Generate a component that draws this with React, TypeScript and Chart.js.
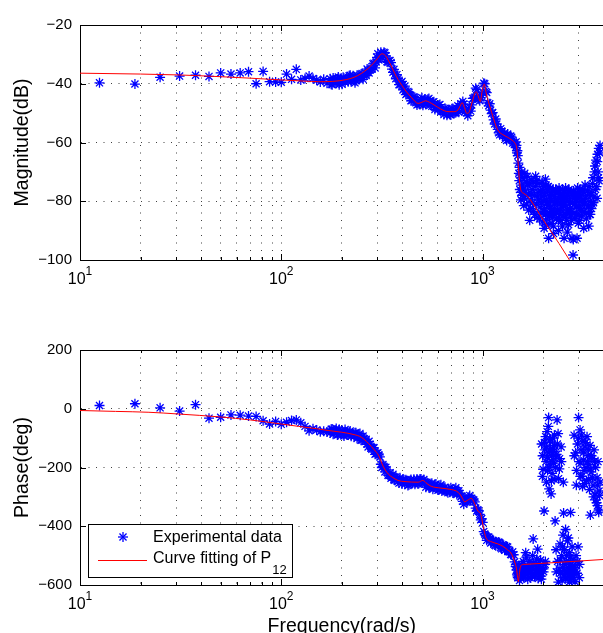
import React, { useEffect, useRef } from "react";
import { Chart, registerables } from "chart.js";

Chart.register(...registerables);

const FONT = '"Liberation Sans", Arial, Helvetica, sans-serif';
const GRID_COLOR = "rgba(0,0,0,0.75)";
const GRID_DASH = [1, 6.5];

// ---- axes / ticks ----
const freqRange = [10, 4000];
const decadeExponents = [1, 2, 3];
const gridFreqs = [10, 20, 30, 40, 50, 60, 70, 80, 90, 100, 200, 300, 400, 500, 600, 700, 800, 900, 1000, 2000, 3000, 4000];
const magRange = [-100, -20];
const magTicks = [-100, -80, -60, -40, -20];
const phaseRange = [-600, 200];
const phaseTicks = [-600, -400, -200, 0, 200];

const yTitles = ["Magnitude(dB)", "Phase(deg)"];
const xTitle = "Frequency(rad/s)";
const legendLabels = ["Experimental data", "Curve fitting of P"];
const legendSubscript = "12";

// ---- experimental data (rad/s, dB, deg) ----
const expFreq = [
  12.5, 18.75, 25, 31.25, 37.5, 43.75, 50, 56.25, 62.5, 68.75, 75, 81.25, 87.5, 93.75, 100, 106.25, 112.5, 118.75, 125, 131.25, 137.5, 143.75, 150, 156.25, 162.5, 168.75,
  175, 179, 183, 187.5, 192, 196, 200.5, 205, 210, 215,
  220, 225, 230, 235, 241, 246, 252, 258, 264, 270,
  276, 282, 289, 296, 302, 309, 316, 324, 331, 339,
  347, 355, 363, 371, 380, 389, 398, 407, 416, 426,
  436, 446, 456, 467, 478, 489, 500, 511, 523, 535,
  548, 560, 573, 587, 600, 614, 628, 643, 658, 673,
  688, 704, 720, 737, 754, 771, 789, 807, 826, 845,
  864, 884, 905, 925, 947, 969, 991, 1014, 1037, 1061,
  1086, 1111, 1136, 1163, 1190, 1217, 1245, 1274, 1303, 1333,
  1364, 1396, 1428, 1461, 1475, 1490,
  1497, 1506, 1515, 1523, 1532, 1540, 1549, 1558, 1576, 1585,
  1594, 1612, 1621, 1630, 1649, 1658, 1668, 1687, 1696, 1706,
  1725, 1735, 1745, 1765, 1775, 1785, 1806, 1816, 1826, 1847,
  1858, 1868, 1890, 1900, 1911, 1933, 1944, 1955, 1966, 1978,
  1989, 2000, 2011, 2023, 2035, 2047, 2058, 2070, 2082, 2094,
  2106, 2118, 2130, 2142, 2154, 2167, 2179, 2191, 2204, 2217,
  2229, 2242, 2255, 2268, 2281, 2294, 2307, 2320, 2334, 2347,
  2360, 2374, 2387, 2401, 2415, 2429, 2443, 2457, 2471, 2485,
  2499, 2513, 2528, 2542, 2556, 2571, 2586, 2601, 2616, 2631,
  2646, 2661, 2676, 2691, 2707, 2722, 2738, 2754, 2770, 2785,
  2801, 2817, 2833, 2850, 2866, 2883, 2899, 2916, 2933, 2949,
  2966, 2983, 3000, 3017, 3034, 3052, 3087, 3122, 3158, 3183,
  3213, 3231, 3269, 3306, 3344, 3371, 3383, 3421, 3433, 3461,
  3501, 3541, 3582, 3623, 3644, 3665, 3707, 3728, 3749, 3779,
  3793, 3836,
  177, 181, 185, 190, 194, 198, 203, 207.5, 212.5, 217.5,
  222.5, 227.5, 232.5, 238, 243.5, 249, 255, 261, 267, 273,
  279, 285.5, 292.5, 299, 305.5, 312.5, 320, 327.5, 335, 343,
  351, 359, 367, 375.5, 384.5, 393.5, 402.5, 411.5, 421, 431,
  441, 451, 461.5, 472.5, 483.5, 494.5, 505.5, 517, 529, 541.5,
  554, 566.5, 580, 593.5, 607, 621, 635.5, 650.5, 665.5, 680.5,
  696, 712, 728.5, 745.5, 762.5, 780, 798, 816.5, 835.5, 854.5,
  874, 894.5, 915, 936, 958, 980, 1002.5, 1025.5, 1049, 1073.5,
  1098.5, 1123.5, 1149.5, 1176.5, 1203.5, 1231, 1259.5, 1288.5, 1318, 1348.5,
  1380, 1412, 1444.5, 1468, 1482.5,
  1527, 1553, 1567, 1603, 1639, 1678, 1716, 1755, 1795, 1836, 1879, 1922,
  1961, 1984, 2006, 2029, 2053, 2076,
  2100, 2124, 2148, 2173, 2197, 2223, 2248, 2274,
  2301, 2327, 2354, 2381, 2408, 2436, 2464, 2492, 2520, 2549,
  2578, 2608, 2638, 2669, 2699, 2730, 2762, 2793, 2825,
  2858, 2891, 2924, 2957, 2992, 3026, 3061,
  3078, 3105, 3140, 3167, 3195, 3250, 3288, 3325, 3354, 3402, 3450, 3481, 3521, 3561, 3603, 3686, 3718, 3770, 3815,
];

const expMag = [
  -39.7, -40.1, -37.8, -37.4, -37.1, -37.5, -36.3, -36.7, -36.3, -35.9, -40.0, -35.8, -39.3, -39.4, -39.5, -36.7, -38.5, -35.1, -38.7, -38.2, -37.4, -38.2, -38.7, -39.4, -38.5, -39.8,
  -38.3, -40.3, -38.9, -39.7, -37.7, -39.2, -40.2, -38.1, -38.5, -39.3,
  -37.1, -38.4, -37.9, -39.0, -37.8, -38.2, -36.5, -37.0, -37.2, -35.6,
  -35.3, -34.9, -33.0, -32.6, -29.8, -30.7, -31.1, -29.3, -30.5, -32.7,
  -32.1, -35.0, -35.1, -38.3, -38.2, -40.3, -39.2, -41.8, -43.7, -42.6,
  -44.0, -45.7, -44.4, -46.5, -46.3, -47.1, -44.8, -46.1, -47.1, -45.3,
  -46.3, -47.7, -46.1, -48.1, -48.7, -47.1, -49.0, -50.5, -48.7, -49.4,
  -50.5, -48.5, -49.9, -49.8, -47.5, -48.0, -47.8, -46.9, -49.3, -50.9,
  -48.2, -47.2, -44.9, -41.5, -44.0, -45.8, -43.9, -39.8, -42.6, -46.5,
  -46.8, -50.2, -52.3, -52.0, -55.5, -57.4, -56.1, -57.3, -58.7, -57.1,
  -59.0, -58.2, -59.9, -61.7, -61.0, -62.8,
  -64.5, -67.0, -70.5, -73.0, -76.0, -71.0, -77.0, -74.5, -78.0, -72.0,
  -75.5, -79.0, -70.5, -76.5, -73.5, -81.0, -71.5, -77.5, -83.0, -74.0,
  -79.5, -82.5, -72.5, -76.0, -80.5, -73.5, -78.0, -84.5, -75.0, -81.0,
  -73.0, -85.5, -77.0, -79.5, -74.0, -82.0, -76.5, -84.0, -78.5, -73.5,
  -87.0, -80.0, -75.0, -89.2, -82.5, -77.0, -84.5, -74.5, -79.5, -86.0,
  -76.0, -81.5, -92.6, -78.0, -84.0, -75.5, -82.0, -87.5, -77.5, -80.0,
  -85.5, -76.0, -91.0, -82.5, -78.5, -84.5, -76.0, -80.5, -86.0, -77.0,
  -83.0, -79.0, -90.0, -75.5, -84.5, -81.0, -77.5, -86.5, -79.5, -82.0,
  -76.0, -85.0, -80.5, -92.6, -78.5, -84.0, -75.5, -81.5, -86.5, -77.5,
  -83.0, -80.0, -88.0, -76.0, -82.5, -79.0, -85.0, -77.0, -83.5, -92.6,
  -80.5, -98.3, -76.5, -84.0, -79.0, -86.0, -77.0, -82.0, -80.0, -92.6,
  -75.5, -84.5, -78.0, -81.5, -86.5, -77.0, -83.0, -79.5, -76.0, -89.2,
  -81.0, -74.5, -84.0, -78.0, -82.0, -88.5, -75.0, -80.0, -84.5, -77.0,
  -81.0, -72.0, -78.5, -68.0, -76.0, -66.0, -79.0, -64.0, -70.0, -62.0,
  -73.0, -61.0,
  -40.2, -38.0, -39.7, -38.3, -40.3, -38.6, -37.8, -39.5, -38.7, -37.3,
  -39.3, -37.3, -39.7, -37.1, -38.5, -36.8, -38.5, -36.3, -35.0, -36.3,
  -35.1, -33.2, -34.6, -31.0, -31.9, -29.3, -30.4, -29.5, -32.5, -32.1,
  -32.8, -36.1, -36.8, -36.9, -40.3, -39.6, -42.1, -40.8, -43.4, -42.9,
  -45.8, -44.8, -44.7, -47.2, -46.8, -45.4, -47.3, -45.3, -46.9, -45.0,
  -47.1, -46.2, -48.8, -47.5, -47.2, -49.5, -49.2, -48.3, -50.7, -49.0,
  -50.6, -48.4, -49.9, -48.3, -49.7, -46.8, -46.0, -49.3, -49.9, -48.7,
  -49.3, -45.0, -44.6, -42.0, -45.3, -44.7, -42.9, -40.0, -43.0, -47.5,
  -49.0, -49.8, -53.7, -53.7, -56.7, -55.3, -57.6, -56.8, -59.3, -58.0,
  -57.8, -60.2, -60.2, -59.8, -63.5,
  -68.5, -79.5, -70.0, -81.5, -78.0, -74.5, -86.5, -77.5, -83.5, -71.5, -78.5, -86.0,
  -80.5, -76.0, -83.5, -78.0, -72.5, -88.0,
  -80.5, -75.0, -85.0, -79.0, -83.5, -76.5, -88.5, -81.0,
  -77.0, -84.0, -80.0, -86.5, -76.5, -83.0, -78.5, -88.5, -81.5, -77.0,
  -85.5, -79.0, -90.5, -76.5, -84.0, -80.5, -86.5, -78.0, -93.0,
  -81.0, -77.5, -84.5, -79.0, -87.5, -76.0, -82.5,
  -78.5, -85.0, -80.5, -77.0, -83.5, -79.0, -86.0, -76.5, -81.5, -84.5, -78.0, -82.5, -74.0, -80.5, -70.0, -75.0, -66.5, -72.0, -63.5,
];

const expPhase = [
  11, 17, 3, -8, 14, -32, -29, -21, -22, -25, -26, -41, -52, -43, -53, -46, -40, -38, -48, -60, -75, -68, -72, -78, -77, -79,
  -82, -69, -81, -67, -88, -77, -74, -93, -79, -89,
  -76, -87, -94, -82, -96, -84, -107, -102, -104, -130,
  -121, -138, -133, -152, -150, -164, -200, -197, -199, -226,
  -218, -233, -242, -232, -247, -235, -256, -242, -242, -261,
  -245, -254, -240, -251, -256, -239, -246, -241, -267, -254,
  -266, -254, -266, -256, -277, -264, -280, -270, -279, -286,
  -284, -276, -284, -269, -286, -288, -297, -325, -311, -315,
  -295, -305, -311, -338, -344, -360, -374, -418, -432, -437,
  -441, -454, -449, -466, -457, -456, -477, -465, -479, -471,
  -487, -497, -497, -537, -549, -569,
  -575, -560, -548, -565, -540, -552, -575, -530, -548, -565,
  -520, -558, -540, -572, -505, -550, -535, -562, -545, -520,
  -575, -555, -538, -565, -500, -443, -548, -570, -530, -558,
  -512, -545, -578, -528, -560, -540, -515, -570, -120, -540,
  -160, -206, -555, -348, -140, -530, -95, -180, -130, -78,
  -210, -150, -30, -273, -110, -190, -135, -290, -160, -220,
  -100, -175, -145, -240, -125, -382, -200, -480, -155, -38,
  -520, -85, -238, -545, -170, -460, -560, -130, -500, -584,
  -540, -430, -355, -570, -480, -530, -411, -555, -500, -575,
  -450, -540, -520, -565, -490, -555, -353, -530, -580, -470,
  -545, -515, -560, -90, -540, -589, -150, -500, -210, -560,
  -120, -470, -30, -180, -530, -72, -140, -230, -110, -175,
  -255, -130, -200, -95, -160, -240, -190, -125, -362, -215,
  -170, -260, -140, -290, -200, -310, -235, -330, -180, -352,
  -280, -250,
  -70, -87, -74, -89, -71, -83, -88, -71, -89, -79,
  -94, -85, -82, -101, -90, -107, -93, -110, -121, -111,
  -134, -132, -155, -152, -157, -189, -190, -215, -208, -227,
  -237, -223, -243, -236, -253, -245, -241, -257, -245, -259,
  -241, -252, -257, -239, -254, -239, -253, -249, -250, -269,
  -258, -274, -258, -271, -276, -259, -277, -267, -282, -273,
  -269, -287, -275, -292, -279, -300, -315, -303, -318, -301,
  -312, -309, -317, -348, -347, -378, -387, -426, -448, -437,
  -457, -448, -464, -457, -454, -473, -463, -482, -469, -486,
  -496, -487, -521, -530, -563,
  -585, -562, -545, -575, -490, -580, -548, -570, -525, -565, -478, -555,
  -580, -230, -545, -115, -520, -250,
  -165, -60, -200, -105, -245, -140, -185, -90,
  -160, -555, -120, -590, -205, -515, -180, -470, -250, -550,
  -575, -520, -555, -440, -590, -505, -565, -535, -575,
  -160, -555, -260, -520, -100, -575, -230,
  -185, -90, -265, -150, -210, -115, -245, -180, -140, -275, -205, -160, -235, -300, -180, -320, -260, -345, -295,
];

// ---- fitted model P12 ----
const fitMagFreq = [10, 20, 31, 50, 70, 100, 130, 153, 180, 210, 230, 250, 270, 287, 300, 316, 330, 340, 350, 366, 380, 398, 412, 445, 479, 500, 520, 545, 574, 620, 674, 720, 755, 775, 792, 812, 837, 860, 890, 930, 955, 975, 995, 1020, 1045, 1100, 1190, 1260, 1330, 1400, 1452, 1475, 1489, 1505, 1520, 1535, 1550, 1600, 1668, 2000, 2400, 2800];
const fitMag = [-36.4, -36.7, -37.0, -37.6, -38.1, -38.7, -39.1, -39.3, -39.2, -38.6, -37.8, -36.5, -34.8, -33.0, -31.5, -29.8, -30.5, -32.0, -33.6, -36.4, -38.5, -40.6, -42.1, -44.8, -46.7, -46.3, -45.8, -46.3, -47.2, -48.6, -49.5, -49.5, -48.9, -47.5, -46.4, -48.0, -50.1, -49.5, -46.0, -42.7, -44.5, -46.1, -42.5, -40.1, -43.5, -48.9, -55.7, -57.3, -58.2, -59.2, -60.3, -61.5, -63.7, -67.5, -71.6, -74.5, -76.2, -77.3, -78.2, -86.3, -94.4, -101.7];

const fitPhaseFreq = [10, 15, 22, 31, 50, 70, 100, 122, 150, 171, 200, 230, 250, 271, 290, 304, 322, 340, 356, 380, 412, 479, 505, 530, 556, 620, 699, 740, 770, 795, 815, 840, 880, 910, 948, 980, 1007, 1040, 1100, 1190, 1260, 1330, 1384, 1450, 1475, 1495, 1506, 1518, 1535, 1560, 1600, 1700, 2500, 4000];
const fitPhase = [-6, -9, -12, -18, -28, -38, -52, -60, -68, -74, -80, -88, -97, -118, -140, -158, -198, -222, -233, -244, -248, -250, -244, -255, -264, -270, -275, -280, -290, -305, -317, -312, -305, -320, -348, -359, -399, -439, -452, -460, -468, -480, -491, -525, -545, -575, -589, -572, -545, -532, -530, -529, -522, -513];

function fmtTick(v: number) {
  return v < 0 ? "\u2212" + Math.abs(v) : String(v);
}

function strokeLine(ctx: CanvasRenderingContext2D, x1: number, y1: number, x2: number, y2: number) {
  ctx.beginPath();
  ctx.moveTo(x1, y1);
  ctx.lineTo(x2, y2);
  ctx.stroke();
}

const matlabAxes = {
  id: "matlabAxes",
  afterDraw(chart: any, _args: any, opts: any) {
    const ctx: CanvasRenderingContext2D = chart.ctx;
    const { left, right, top, bottom } = chart.chartArea;
    const xs = chart.scales.x;
    const ys = chart.scales.y;
    ctx.save();
    ctx.setLineDash([]);
    ctx.strokeStyle = "#000";
    ctx.lineWidth = 1;
    const T = Math.round(top) + 0.5;
    strokeLine(ctx, left, T, right, T);
    for (const v of gridFreqs) {
      const px = Math.round(xs.getPixelForValue(v)) + 0.5;
      const len = decadeExponents.some((e) => Math.pow(10, e) === v) ? 6 : 3;
      strokeLine(ctx, px, bottom, px, bottom - len);
      strokeLine(ctx, px, top, px, top + len);
    }
    for (const v of opts.ticks) {
      const py = Math.round(ys.getPixelForValue(v)) + 0.5;
      strokeLine(ctx, left, py, left + 6, py);
    }
    // decade labels 10^n
    ctx.fillStyle = "#000";
    ctx.textAlign = "left";
    ctx.textBaseline = "alphabetic";
    for (const e of decadeExponents) {
      const px = xs.getPixelForValue(Math.pow(10, e));
      ctx.font = `16px ${FONT}`;
      const bw = ctx.measureText("10").width;
      ctx.font = `12px ${FONT}`;
      const ew = ctx.measureText(String(e)).width;
      const x0 = px - (bw + ew) / 2;
      ctx.font = `16px ${FONT}`;
      ctx.fillText("10", x0, bottom + 24);
      ctx.font = `12px ${FONT}`;
      ctx.fillText(String(e), x0 + bw, bottom + 15);
    }
    if (opts.legend) {
      const bx = left + 8;
      const by = bottom - 61;
      ctx.fillStyle = "#fff";
      ctx.fillRect(bx, by, 204, 53);
      ctx.strokeStyle = "#000";
      ctx.strokeRect(bx + 0.5, by + 0.5, 204, 53);
      const sx = left + 43;
      const sy = bottom - 48;
      const r = 5;
      const d = r * Math.SQRT1_2;
      ctx.strokeStyle = "#0000ff";
      ctx.lineWidth = 1.3;
      strokeLine(ctx, sx - r, sy, sx + r, sy);
      strokeLine(ctx, sx, sy - r, sx, sy + r);
      strokeLine(ctx, sx - d, sy - d, sx + d, sy + d);
      strokeLine(ctx, sx - d, sy + d, sx + d, sy - d);
      ctx.lineWidth = 1;
      ctx.strokeStyle = "#ff0000";
      strokeLine(ctx, left + 18, bottom - 24.5, left + 67, bottom - 24.5);
      ctx.fillStyle = "#000";
      ctx.textBaseline = "middle";
      ctx.font = `16px ${FONT}`;
      ctx.fillText(legendLabels[0], left + 73, bottom - 47.5);
      ctx.fillText(legendLabels[1], left + 73, bottom - 26.5);
      const w = ctx.measureText(legendLabels[1]).width;
      ctx.font = `13px ${FONT}`;
      ctx.fillText(legendSubscript, left + 73 + w + 1, bottom - 15);
    }
    ctx.restore();
  },
};

interface PanelCfg {
  values: number[];
  fitFreq: number[];
  fitVals: number[];
  range: number[];
  ticks: number[];
  yTitle: string;
  xTitle: string | null;
  padTop: number;
  xHeight: number;
  legend: boolean;
}

function makeChart(canvas: HTMLCanvasElement, p: PanelCfg) {
  const config: any = {
    type: "scatter",
    data: {
      datasets: [
        {
          type: "line",
          label: legendLabels[1] + legendSubscript,
          data: p.fitFreq.map((f, i) => ({ x: f, y: p.fitVals[i] })),
          borderColor: "#ff0000",
          backgroundColor: "#ff0000",
          borderWidth: 1,
          pointRadius: 0,
          fill: false,
          cubicInterpolationMode: "monotone",
          order: 0,
        },
        {
          type: "scatter",
          label: legendLabels[0],
          data: expFreq.map((f, i) => ({ x: f, y: p.values[i] })),
          pointStyle: "star",
          pointRadius: 5,
          borderColor: "#0000ff",
          backgroundColor: "#0000ff",
          borderWidth: 1.3,
          order: 1,
        },
      ],
    },
    options: {
      animation: false,
      responsive: false,
      maintainAspectRatio: false,
      devicePixelRatio: 1,
      events: [],
      layout: { padding: { left: 0, right: 3, top: p.padTop, bottom: 0 } },
      plugins: {
        legend: { display: false },
        tooltip: { enabled: false },
        matlabAxes: { ticks: p.ticks, legend: p.legend },
      },
      scales: {
        x: {
          type: "logarithmic",
          min: freqRange[0],
          max: freqRange[1],
          afterBuildTicks: (s: any) => {
            s.ticks = gridFreqs.map((v) => ({ value: v }));
          },
          ticks: { display: false },
          grid: { color: GRID_COLOR, lineWidth: 1, drawTicks: false },
          border: { display: true, color: "#000", width: 1, dash: GRID_DASH },
          title: p.xTitle
            ? {
                display: true,
                text: p.xTitle,
                color: "#000",
                font: { family: FONT, size: 19.5 },
                padding: { top: 0, bottom: 12 },
              }
            : { display: false },
          afterFit: (s: any) => {
            s.height = p.xHeight;
          },
        },
        y: {
          type: "linear",
          min: p.range[0],
          max: p.range[1],
          afterBuildTicks: (s: any) => {
            s.ticks = p.ticks.map((v) => ({ value: v }));
          },
          ticks: {
            color: "#000",
            font: { family: FONT, size: 15 },
            padding: 8,
            callback: (v: any) => fmtTick(Number(v)),
          },
          grid: { color: GRID_COLOR, lineWidth: 1, drawTicks: false },
          border: { display: true, color: "#000", width: 1, dash: GRID_DASH },
          title: {
            display: true,
            text: p.yTitle,
            color: "#000",
            font: { family: FONT, size: 19.5 },
            padding: { top: 11, bottom: 0 },
          },
          afterFit: (s: any) => {
            s.width = 80;
          },
        },
      },
    },
    plugins: [matlabAxes],
  };
  return new Chart(canvas, config);
}

export default function App() {
  const topRef = useRef<HTMLCanvasElement>(null);
  const botRef = useRef<HTMLCanvasElement>(null);

  useEffect(() => {
    const c1 = makeChart(topRef.current!, {
      values: expMag,
      fitFreq: fitMagFreq,
      fitVals: fitMag,
      range: magRange,
      ticks: magTicks,
      yTitle: yTitles[0],
      xTitle: null,
      padTop: 25,
      xHeight: 40,
      legend: false,
    });
    const c2 = makeChart(botRef.current!, {
      values: expPhase,
      fitFreq: fitPhaseFreq,
      fitVals: fitPhase,
      range: phaseRange,
      ticks: phaseTicks,
      yTitle: yTitles[1],
      xTitle: xTitle,
      padTop: 50,
      xHeight: 65,
      legend: true,
    });
    return () => {
      c1.destroy();
      c2.destroy();
    };
  }, []);

  return (
    <div
      style={{
        position: "absolute",
        left: 0,
        top: 0,
        width: 603,
        height: 633,
        overflow: "hidden",
        background: "#fff",
      }}
    >
      <canvas
        ref={topRef}
        width={610}
        height={300}
        style={{ position: "absolute", left: 0, top: 0, width: 610, height: 300 }}
      />
      <canvas
        ref={botRef}
        width={610}
        height={350}
        style={{ position: "absolute", left: 0, top: 300, width: 610, height: 350 }}
      />
    </div>
  );
}
